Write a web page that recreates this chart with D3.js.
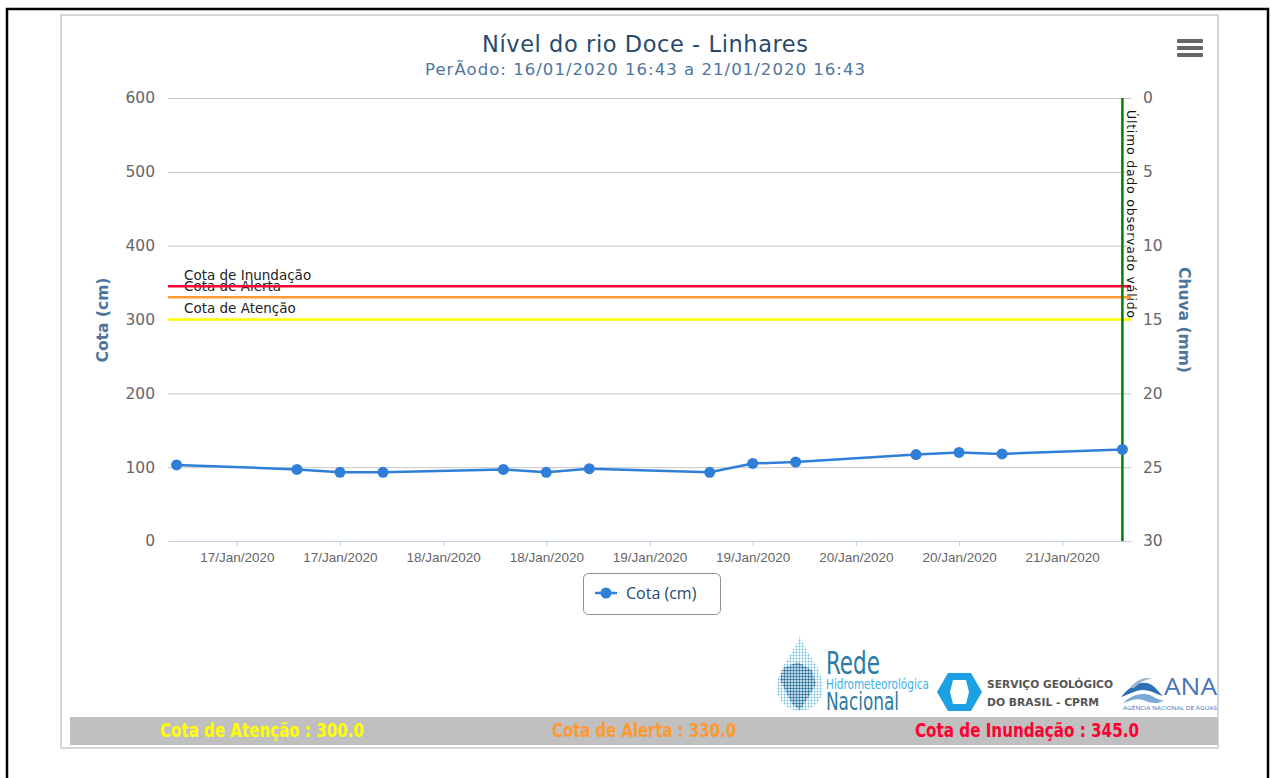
<!DOCTYPE html>
<html>
<head>
<meta charset="utf-8">
<script src="https://cdn.jsdelivr.net/npm/d3@7"></script>
<style>
  body { margin: 0; background: #fff; }
  svg { display: block; }
</style>
</head>
<body>
<svg id="chart" width="1271" height="778"></svg>
<script>
// readings (local times as shown on the chart)
var times = ["2020-01-16T17:00", "2020-01-17T07:00", "2020-01-17T12:00", "2020-01-17T17:00",
             "2020-01-18T07:00", "2020-01-18T12:00", "2020-01-18T17:00", "2020-01-19T07:00",
             "2020-01-19T12:00", "2020-01-19T17:00", "2020-01-20T07:00", "2020-01-20T12:00",
             "2020-01-20T17:00", "2020-01-21T07:00"];
var cota = [103, 97, 93, 93, 97, 93, 98, 93, 105, 107, 117, 120, 118, 124];

var cotaTicks = [0, 100, 200, 300, 400, 500, 600];
var chuvaTicks = [0, 5, 10, 15, 20, 25, 30];
var xDomain = ["2020-01-16T16:00", "2020-01-21T08:00"];
var xTickRange = ["2020-01-17T00:00", "2020-01-21T00:00"];
var lastValid = "2020-01-21T07:00";

var thresholdNames = ["Cota de Atenção", "Cota de Alerta", "Cota de Inundação"];
var thresholdValues = [300, 330, 345];
var thresholdColors = ["#ffff00", "#ff9933", "#ff0033"];

(function () {
var parse = d3.utcParse("%Y-%m-%dT%H:%M");
var data = times.map(function (t, i) { return {t: parse(t), v: cota[i]}; });

var svg = d3.select("#chart");
var pLeft = 168, pRight = 1131, pTop = 98, pBottom = 541;

// frames
svg.append("rect").attr("x", 7).attr("y", 9).attr("width", 1261).attr("height", 800)
    .attr("fill", "#fff").attr("stroke", "#000").attr("stroke-width", 2.5);
svg.append("rect").attr("x", 61).attr("y", 15).attr("width", 1157).attr("height", 733)
    .attr("fill", "#fff").attr("stroke", "#d6d6d6").attr("stroke-width", 2);

var x = d3.scaleUtc().domain(xDomain.map(parse)).range([pLeft, pRight]);
var y = d3.scaleLinear().domain([0, 600]).range([pBottom, pTop]);
var y2 = d3.scaleLinear().domain([0, 30]).range([pTop, pBottom]);

// title
svg.append("text").attr("x", 645).attr("y", 52).attr("text-anchor", "middle")
    .attr("textLength", 326)
    .style("font", "22.5px 'DejaVu Sans', sans-serif").attr("fill", "#274b6d")
    .text("Nível do rio Doce - Linhares");
svg.append("text").attr("x", 645).attr("y", 75).attr("text-anchor", "middle")
    .attr("textLength", 440)
    .style("font", "16.5px 'DejaVu Sans', sans-serif").attr("fill", "#4d759e")
    .text("PerÃodo: 16/01/2020 16:43 a 21/01/2020 16:43");

// hamburger
[39, 46, 53].forEach(function (yy) {
    svg.append("rect").attr("x", 1177).attr("y", yy).attr("width", 26).attr("height", 4)
        .attr("rx", 1).attr("fill", "#666");
});

// grid
var grid = svg.append("g").attr("transform", "translate(" + pLeft + ",0)")
    .call(d3.axisLeft(y).tickValues(cotaTicks.slice(1)).tickSize(-(pRight - pLeft)).tickFormat(""));
grid.select(".domain").remove();
grid.selectAll("line").attr("stroke", "#c8c8c8");

// left axis labels
var ya = svg.append("g").attr("transform", "translate(" + pLeft + ",0)")
    .call(d3.axisLeft(y).tickValues(cotaTicks).tickSize(0).tickPadding(13));
ya.select(".domain").remove();
ya.selectAll("text").style("font", "15.5px 'DejaVu Sans', sans-serif").attr("fill", "#666");

// right axis labels
var ya2 = svg.append("g").attr("transform", "translate(" + pRight + ",0)")
    .call(d3.axisRight(y2).tickValues(chuvaTicks).tickSize(0).tickPadding(12));
ya2.select(".domain").remove();
ya2.selectAll("text").style("font", "15.5px 'DejaVu Sans', sans-serif").attr("fill", "#666");

// x axis
var xTicks = d3.utcHour.every(12).range(parse(xTickRange[0]), d3.utcHour.offset(parse(xTickRange[1]), 1));
var xa = svg.append("g").attr("transform", "translate(0," + pBottom + ")")
    .call(d3.axisBottom(x).tickValues(xTicks).tickFormat(d3.utcFormat("%d/%b/%Y"))
        .tickSize(5).tickSizeOuter(0).tickPadding(6));
xa.select(".domain").attr("stroke", "#c0d0e0");
xa.selectAll("line").attr("stroke", "#c0d0e0");
xa.selectAll("text").style("font", "13.5px 'Liberation Sans', Arial, sans-serif").attr("fill", "#666");

// axis titles
svg.append("text").attr("transform", "translate(108,320) rotate(-90)").attr("text-anchor", "middle")
    .style("font", "bold 15.5px 'DejaVu Sans', sans-serif").attr("fill", "#4d759e").text("Cota (cm)");
svg.append("text").attr("transform", "translate(1179,320) rotate(90)").attr("text-anchor", "middle")
    .style("font", "bold 15.5px 'DejaVu Sans', sans-serif").attr("fill", "#4d759e").text("Chuva (mm)");

// threshold lines
thresholdValues.forEach(function (v, i) {
    svg.append("line").attr("x1", pLeft).attr("x2", pRight).attr("y1", y(v)).attr("y2", y(v))
        .attr("stroke", thresholdColors[i]).attr("stroke-width", 2.5);
    svg.append("text").attr("x", pLeft + 16).attr("y", y(v) - 6.5)
        .style("font", "13.5px 'DejaVu Sans', sans-serif").attr("fill", "#222")
        .text(thresholdNames[i]);
});

// last valid observation line
var xl = x(parse(lastValid));
svg.append("line").attr("x1", xl).attr("x2", xl).attr("y1", pTop).attr("y2", pBottom)
    .attr("stroke", "#008000").attr("stroke-width", 2.5);
svg.append("text").attr("transform", "translate(" + (xl + 5) + "," + (pTop + 12) + ") rotate(90)")
    .attr("textLength", 208)
    .style("font", "12.5px 'DejaVu Sans', sans-serif").attr("fill", "#111")
    .text("Último dado observado válido");

// series
var line = d3.line().x(function (d) { return x(d.t); }).y(function (d) { return y(d.v); });
svg.append("path").datum(data).attr("d", line).attr("fill", "none")
    .attr("stroke", "#2f7ed8").attr("stroke-width", 2.5).attr("stroke-linejoin", "round");
svg.selectAll("circle.pt").data(data).enter().append("circle").attr("class", "pt")
    .attr("cx", function (d) { return x(d.t); }).attr("cy", function (d) { return y(d.v); })
    .attr("r", 5.5).attr("fill", "#2f7ed8");

// legend
var lg = svg.append("g").attr("transform", "translate(583,573)");
lg.append("rect").attr("x", 0.5).attr("y", 0.5).attr("width", 137).attr("height", 41).attr("rx", 5)
    .attr("fill", "#fff").attr("stroke", "#909090");
lg.append("line").attr("x1", 12).attr("x2", 34).attr("y1", 20).attr("y2", 20)
    .attr("stroke", "#2f7ed8").attr("stroke-width", 2.5);
lg.append("circle").attr("cx", 23).attr("cy", 20).attr("r", 5.5).attr("fill", "#2f7ed8");
lg.append("text").attr("x", 43).attr("y", 26).style("font", "16px 'Open Sans', sans-serif")
    .attr("fill", "#274b6d").text("Cota (cm)");

// logos
var defs = svg.append("defs");
defs.append("pattern").attr("id", "dotsL").attr("width", 3).attr("height", 3)
    .attr("patternUnits", "userSpaceOnUse")
    .append("circle").attr("cx", 1.5).attr("cy", 1.5).attr("r", 0.9).attr("fill", "#5db8e4");
defs.append("pattern").attr("id", "dotsD").attr("width", 3).attr("height", 3)
    .attr("patternUnits", "userSpaceOnUse")
    .append("circle").attr("cx", 1.5).attr("cy", 1.5).attr("r", 1.2).attr("fill", "#2a6f98");
svg.append("path").attr("d", "M800,636 C806,654 823,668 823,688 A23,23 0 1 1 777,688 C777,668 794,654 800,636 Z")
    .attr("fill", "url(#dotsL)");
svg.append("path").attr("d", "M783,668 L798,662 L812,670 L816,684 L808,698 L800,710 L792,704 L786,692 L780,680 Z")
    .attr("fill", "url(#dotsD)");
var cond = "'Liberation Sans Narrow', 'DejaVu Sans Condensed', sans-serif";
svg.append("text").attr("x", 826).attr("y", 674).attr("textLength", 54).attr("lengthAdjust", "spacingAndGlyphs")
    .style("font", "32px " + cond).attr("fill", "#2b7ba6").text("Rede");
svg.append("text").attr("x", 826).attr("y", 689).attr("textLength", 103).attr("lengthAdjust", "spacingAndGlyphs")
    .style("font", "14px " + cond).attr("fill", "#3db2e6").text("Hidrometeorológica");
svg.append("text").attr("x", 826).attr("y", 710).attr("textLength", 73).attr("lengthAdjust", "spacingAndGlyphs")
    .style("font", "25px " + cond).attr("fill", "#2b7ba6").text("Nacional");

svg.append("path").attr("d", "M937,692 L948,673 L971,673 L982,692 L971,711 L948,711 Z M953,680 L966,680 L969,692 L966,704 L953,704 L950,692 Z")
    .attr("fill", "#1ba1e2").attr("fill-rule", "evenodd");
svg.append("text").attr("x", 987).attr("y", 688).attr("textLength", 126).attr("lengthAdjust", "spacingAndGlyphs")
    .style("font", "bold 11px 'DejaVu Sans', sans-serif").attr("fill", "#555").text("SERVIÇO GEOLÓGICO");
svg.append("text").attr("x", 987).attr("y", 706).attr("textLength", 112).attr("lengthAdjust", "spacingAndGlyphs")
    .style("font", "bold 11px 'DejaVu Sans', sans-serif").attr("fill", "#555").text("DO BRASIL - CPRM");

svg.append("path").attr("d", "M1121,697 C1130,686 1140,680 1150,684 C1156,687 1160,694 1163,696 C1156,694 1150,690 1143,690 C1135,690 1128,695 1121,697 Z")
    .attr("fill", "#2f6fb5");
svg.append("path").attr("d", "M1123,703 C1133,694 1143,692 1152,696 C1157,699 1161,701 1164,700 C1158,705 1150,703 1143,700 C1136,698 1130,701 1123,703 Z")
    .attr("fill", "#7aa9d8");
svg.append("path").attr("d", "M1130,688 C1136,680 1145,676 1152,679 C1146,679 1140,682 1134,688 Z")
    .attr("fill", "#9cb3c9");
svg.append("text").attr("x", 1164).attr("y", 695).attr("textLength", 53).attr("lengthAdjust", "spacingAndGlyphs")
    .style("font", "24px 'Open Sans', sans-serif").attr("fill", "#4a74b8").text("ANA");
svg.append("text").attr("x", 1123).attr("y", 710).attr("textLength", 94).attr("lengthAdjust", "spacingAndGlyphs")
    .style("font", "5px 'Open Sans', sans-serif").attr("fill", "#4a74b8").text("AGÊNCIA NACIONAL DE ÁGUAS");

// bottom bar with threshold summary
svg.append("rect").attr("x", 70).attr("y", 717).attr("width", 1148).attr("height", 28).attr("fill", "#c0c0c0");
var barCenters = [262, 644, 1027];
var barWidths = [204, 184, 224];
thresholdNames.forEach(function (n, i) {
    svg.append("text").attr("x", barCenters[i] - barWidths[i] / 2).attr("y", 737)
        .attr("textLength", barWidths[i]).attr("lengthAdjust", "spacingAndGlyphs")
        .style("font", "bold 19px " + cond).attr("fill", thresholdColors[i])
        .text(n + " : " + thresholdValues[i].toFixed(1));
});
})();
</script>
</body>
</html>
